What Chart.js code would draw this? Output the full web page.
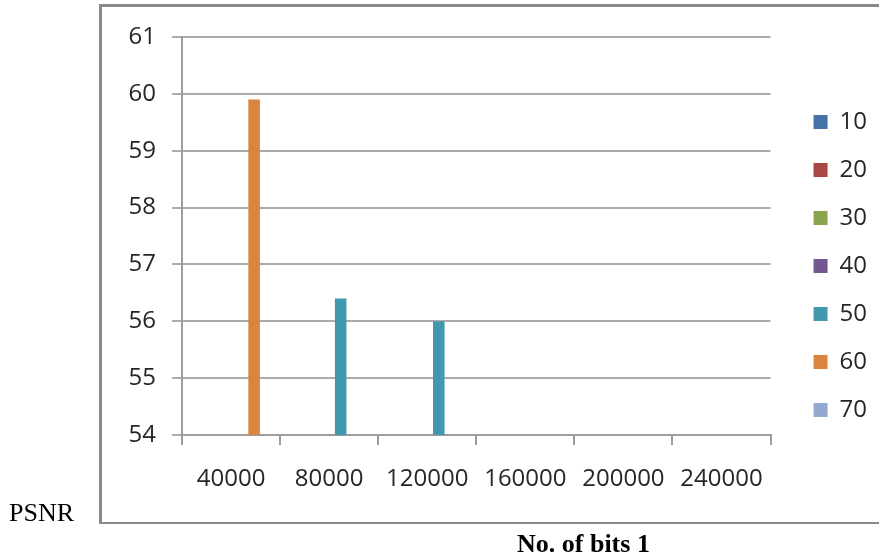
<!DOCTYPE html>
<html>
<head>
<meta charset="utf-8">
<script src="https://cdn.jsdelivr.net/npm/chart.js@4/dist/chart.umd.min.js"></script>
<style>
  html, body { margin: 0; padding: 0; background: #fff; }
  #wrap { position: relative; width: 879px; height: 559px; overflow: hidden; }
  #frame {
    position: absolute; left: 99px; top: 4px; width: 820px; height: 515px;
    border-style: solid; border-color: #8a8a8a; border-width: 3px 3px 2px 3px;
  }
  #c { position: absolute; left: 0; top: 0; }
  .note { position: absolute; font-family: "Liberation Serif", "Times New Roman", serif;
          font-size: 26px; line-height: 26px; color: #000; white-space: nowrap; }
  #ylab { left: 9px; top: 500px; }
  #xlab { left: 517px; top: 531px; font-weight: bold; }
</style>
</head>
<body>
<div id="wrap">
  <div id="frame"></div>
  <canvas id="c" width="879" height="559"></canvas>
  <div class="note" id="ylab">PSNR</div>
  <div class="note" id="xlab">No. of bits 1</div>
</div>
<script>
// Number of bits on the category axis
const categories = ['40000', '80000', '120000', '160000', '200000', '240000'];
// Series names shown in the legend
const seriesNames = ['10', '20', '30', '40', '50', '60', '70'];
// PSNR values per series (null = no bar)
const s10 = [null, null, null, null, null, null];
const s20 = [null, null, null, null, null, null];
const s30 = [null, null, null, null, null, null];
const s40 = [null, null, null, null, null, null];
const s50 = [null, 56.4, 56.0, null, null, null];
const s60 = [59.9, null, null, null, null, null];
const s70 = [null, null, null, null, null, null];
// Y-axis range
const yMin = 54;
const yMax = 61;

const seriesValues = [s10, s20, s30, s40, s50, s60, s70];
const seriesColors = ['#4572A7', '#AA4643', '#89A54E', '#71588F', '#4198AF', '#DB843D', '#93A9CF'];

const axisColor = '#9c9c9c';
const gridColor = '#ababab';
const textColor = '#262626';
const tickFont = { family: '"Open Sans", "Liberation Sans", sans-serif', size: 24 };

new Chart(document.getElementById('c'), {
  type: 'bar',
  data: {
    labels: categories,
    datasets: seriesNames.map((name, i) => ({
      label: name,
      data: seriesValues[i],
      backgroundColor: seriesColors[i],
      borderWidth: 0,
      categoryPercentage: 7 / 8.5,
      barPercentage: 1
    }))
  },
  options: {
    responsive: false,
    animation: false,
    devicePixelRatio: 1,
    layout: { padding: { left: 102, top: 37, right: 2, bottom: 64 } },
    plugins: {
      tooltip: { enabled: false },
      legend: {
        position: 'right',
        labels: {
          boxWidth: 14,
          boxHeight: 14,
          padding: 24,
          color: textColor,
          font: tickFont
        }
      }
    },
    scales: {
      x: {
        grid: {
          display: true,
          drawOnChartArea: false,
          drawTicks: true,
          tickLength: 10,
          color: axisColor,
          lineWidth: 2
        },
        border: { display: true, color: axisColor, width: 2 },
        ticks: { color: textColor, font: tickFont, padding: 20, maxRotation: 0, autoSkip: false },
        afterFit: (s) => { s.height = 60; }
      },
      y: {
        min: yMin,
        max: yMax,
        grid: { color: gridColor, lineWidth: 2, tickLength: 10 },
        border: { display: true, color: axisColor, width: 2 },
        ticks: { stepSize: 1, color: textColor, font: tickFont, padding: 16 },
        afterFit: (s) => { s.width = 80; }
      },
      gap: {
        type: 'linear',
        position: 'right',
        display: true,
        grid: { display: false },
        border: { display: false },
        ticks: { display: false },
        afterFit: (s) => { s.width = 19; }
      }
    }
  }
});
</script>
</body>
</html>
